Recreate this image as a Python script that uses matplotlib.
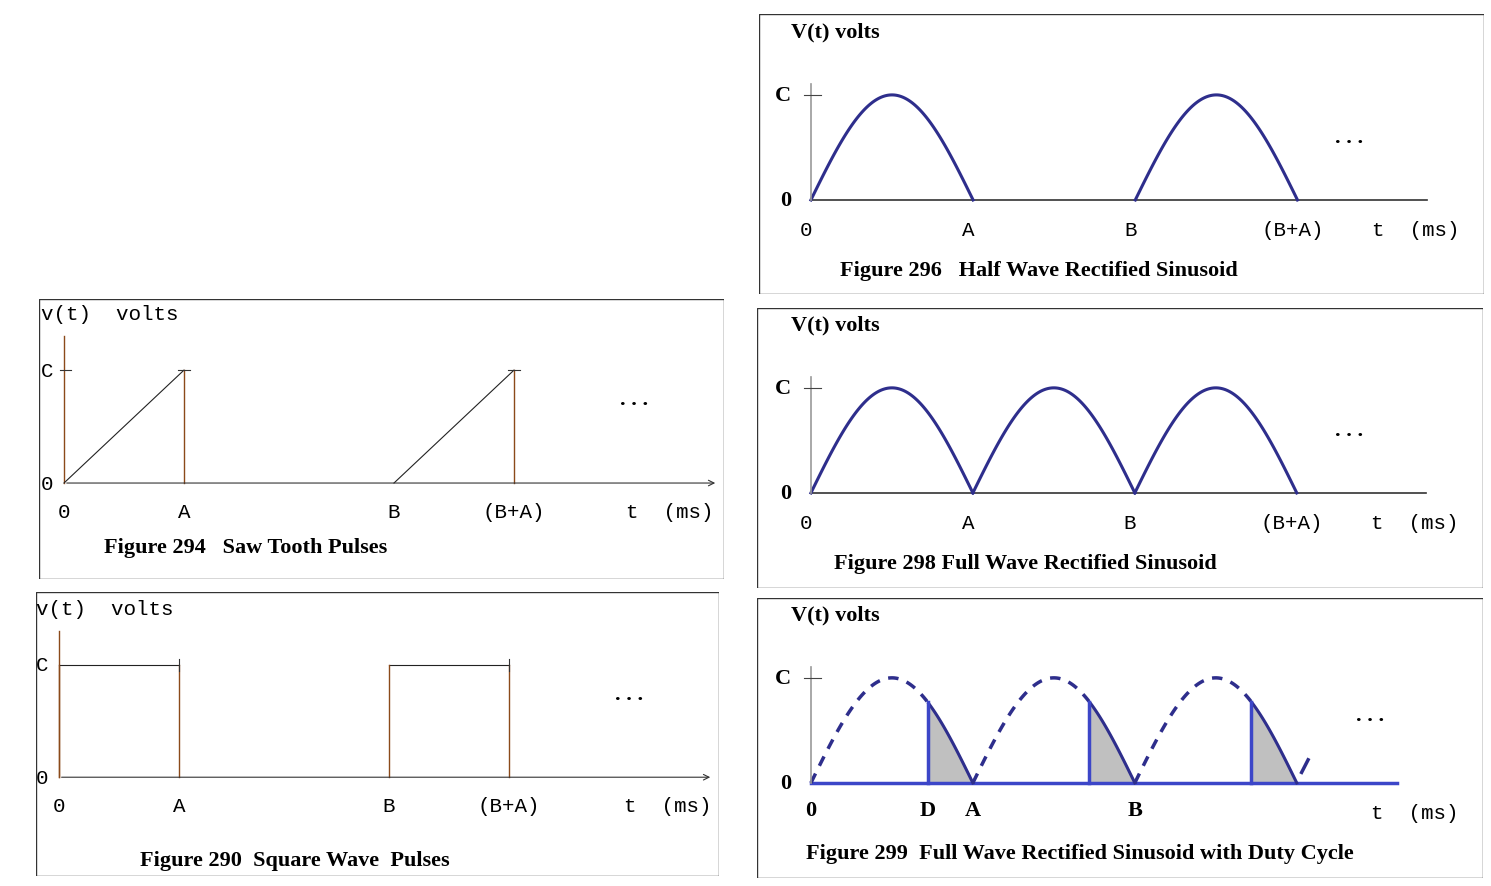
import numpy as np
import matplotlib.pyplot as plt
from matplotlib.patches import Rectangle

W, H = 1491, 887
MONO = 'Liberation Mono'
SERIF = 'Liberation Serif'
NAVY = '#2e2e8c'
BLUE = '#3c46c8'

# key times (A = 1 unit)
t_saw = [0, 1, 2.75, 3.75]
t_sq = [0, 1, 2.75, 3.75]
t_rect = [0, 1, 2, 3]
D = 0.72
C = 1.0
tick_labels = ['0', 'A', 'B', '(B+A)']

fig = plt.figure(figsize=(W / 100, H / 100), dpi=100)


def panel(box, xlim, ylim):
    x0, y0, x1, y1 = box
    ax = fig.add_axes([x0 / W, 1 - y1 / H, (x1 - x0) / W, (y1 - y0) / H])
    ax.set_xlim(*xlim)
    ax.set_ylim(*ylim)
    ax.axis('off')
    ax.add_patch(Rectangle((0, 0), 1, 1, transform=ax.transAxes, fill=False,
                           lw=1, ec='#333'))
    return ax


def half(t0, n=100):
    t = np.linspace(0, 1, n)
    return t0 + t, np.sin(np.pi * t)


def dots(ax, x, y):
    ax.text(x, y, '. . .', family=SERIF, fontweight='bold', fontsize=16,
            ha='center')


# ---- saw tooth ----
ax = panel((39, 300, 724, 580), (-0.208, 5.5), (-0.85, 1.63))
ax.annotate('', xy=(5.45, 0), xytext=(0, 0),
            arrowprops=dict(arrowstyle='->', lw=0.8, color='#333'))
ax.plot([0, 0], [0, 1.3], color='#8b4a1a', lw=1)
ax.plot([-0.03, 0.06], [C, C], color='#333', lw=0.8)
for s in (t_saw[0], t_saw[2]):
    ax.plot([s, s + 1], [0, C], color='#222', lw=0.8)
    ax.plot([s + 1, s + 1], [0, C], color='#8b4a1a', lw=1)
    ax.plot([s + 0.95, s + 1.05], [C, C], color='#333', lw=0.8)
for t, lb in zip(t_saw, tick_labels):
    ax.text(t, -0.25, lb, family=MONO, fontsize=15, ha='center', va='center')
ax.text(5.05, -0.25, 't  (ms)', family=MONO, fontsize=15, ha='center', va='center')
ax.text(-0.19, 1.5, 'v(t)  volts', family=MONO, fontsize=15, va='center')
ax.text(-0.19, C, 'C', family=MONO, fontsize=15, va='center')
ax.text(-0.19, 0, '0', family=MONO, fontsize=15, va='center')
dots(ax, 4.75, 0.7)
ax.text(0.33, -0.57, 'Figure 294   Saw Tooth Pulses', family=SERIF,
        fontweight='bold', fontsize=16, va='center')

# ---- square ----
ax = panel((36, 593, 719, 877), (-0.19, 5.5), (-0.88, 1.65))
ax.annotate('', xy=(5.45, 0), xytext=(0, 0),
            arrowprops=dict(arrowstyle='->', lw=0.8, color='#333'))
ax.plot([0, 0], [0, 1.3], color='#8b4a1a', lw=1)
for s in (t_sq[0], t_sq[2]):
    ax.plot([s, s + 1], [C, C], color='#222', lw=0.8)
    ax.plot([s, s], [0, C], color='#8b4a1a', lw=1)
    ax.plot([s + 1, s + 1], [0, C], color='#8b4a1a', lw=1)
    ax.plot([s + 1, s + 1], [C - 0.05, C + 0.05], color='#333', lw=0.8)
for t, lb in zip(t_sq, tick_labels):
    ax.text(t, -0.25, lb, family=MONO, fontsize=15, ha='center', va='center')
ax.text(5.07, -0.25, 't  (ms)', family=MONO, fontsize=15, ha='center', va='center')
ax.text(-0.19, 1.5, 'v(t)  volts', family=MONO, fontsize=15, va='center')
ax.text(-0.19, C, 'C', family=MONO, fontsize=15, va='center')
ax.text(-0.19, 0, '0', family=MONO, fontsize=15, va='center')
dots(ax, 4.75, 0.7)
ax.text(0.68, -0.74, 'Figure 290  Square Wave  Pulses', family=SERIF,
        fontweight='bold', fontsize=16, va='center')


def right_common(ax, caption, cap_x, labels=True):
    ax.plot([0, 0], [0, 1.1], color='#999', lw=1.2)
    ax.plot([-0.04, 0.06], [C, C], color='#444', lw=0.8)
    ax.text(-0.12, C, 'C', family=SERIF, fontweight='bold', fontsize=16,
            ha='right', va='center')
    ax.text(-0.12, 0, '0', family=SERIF, fontweight='bold', fontsize=16,
            ha='right', va='center')
    ax.text(-0.12, 1.6, 'V(t) volts', family=SERIF, fontweight='bold',
            fontsize=16, va='center')
    if labels:
        for t, lb in zip(t_rect, tick_labels):
            ax.text(t - 0.03, -0.28, lb, family=MONO, fontsize=15,
                    ha='center', va='center')
    ax.text(3.73, -0.28, 't  (ms)', family=MONO, fontsize=15,
            ha='center', va='center')
    ax.text(cap_x, -0.67, caption, family=SERIF, fontweight='bold',
            fontsize=16, va='center')


# ---- half wave ----
ax = panel((759, 15, 1484, 295), (-0.32, 4.15), (-0.895, 1.77))
ax.plot([0, 3.8], [0, 0], color='#333', lw=1.2)
for s in (t_rect[0], t_rect[2]):
    ax.plot(*half(s), color=NAVY, lw=2.2)
dots(ax, 3.32, 0.55)
right_common(ax, 'Figure 296   Half Wave Rectified Sinusoid', 0.18)

# ---- full wave ----
ax = panel((757, 309, 1483, 589), (-0.333, 4.15), (-0.905, 1.76))
ax.plot([0, 3.8], [0, 0], color='#333', lw=1.2)
for s in t_rect[:3]:
    ax.plot(*half(s), color=NAVY, lw=2.2)
dots(ax, 3.32, 0.55)
right_common(ax, 'Figure 298 Full Wave Rectified Sinusoid', 0.14)

# ---- duty cycle ----
ax = panel((757, 599, 1483, 879), (-0.333, 4.15), (-0.905, 1.76))
ax.plot([0, 3.62], [0, 0], color=BLUE, lw=2.5)
for s in t_rect[:3]:
    tt, vv = half(s)
    on = tt >= s + D
    ax.plot(tt[~on], vv[~on], color=NAVY, lw=2.5, ls=(0, (3, 2.5)))
    ax.plot(tt[on], vv[on], color=NAVY, lw=2.2)
    ax.fill_between(tt[on], 0, vv[on], color='#c0c0c0')
    ax.plot([s + D, s + D], [0, np.sin(np.pi * D)], color=BLUE, lw=2.5)
ax.plot([3.03, 3.07], [0.1, 0.22], color=NAVY, lw=2.5)
for t, lb in zip([0, D, 1, 2], ['0', 'D', 'A', 'B']):
    ax.text(t, -0.26, lb, family=SERIF, fontweight='bold', fontsize=16,
            ha='center', va='center')
dots(ax, 3.45, 0.6)
right_common(ax, 'Figure 299  Full Wave Rectified Sinusoid with Duty Cycle',
             -0.03, labels=False)

fig.savefig('out.png', dpi=100)
